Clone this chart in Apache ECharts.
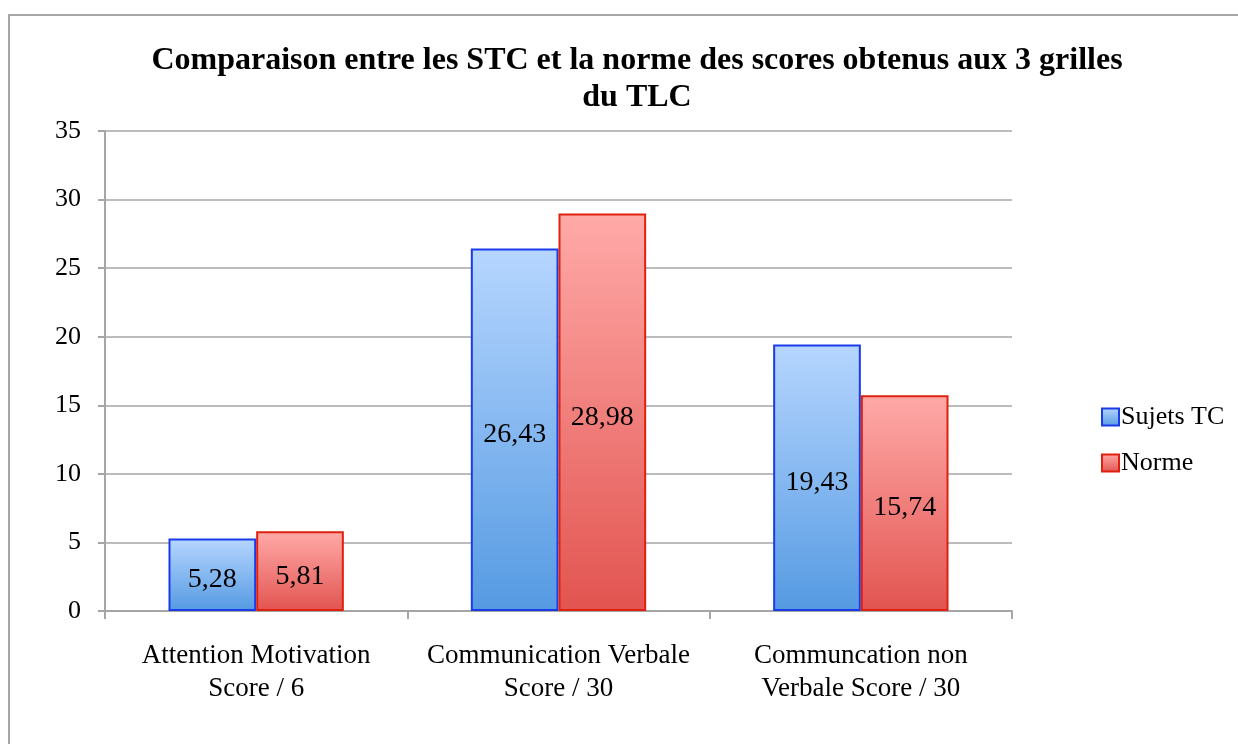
<!DOCTYPE html>
<html><head><meta charset="utf-8">
<script src="https://cdn.jsdelivr.net/npm/echarts@6/dist/echarts.min.js"></script>
<style>html,body{margin:0;padding:0;background:#fff}#c{width:1238px;height:744px}</style>
</head><body><div id="c"></div>
<script>
const categories = ['Attention Motivation\nScore / 6', 'Communication Verbale\nScore / 30', 'Communcation non\nVerbale Score / 30'];
const sujetsTC = [5.28, 26.43, 19.43];
const norme = [5.81, 28.98, 15.74];
const seriesNames = ['Sujets TC', 'Norme'];
const titleText = 'Comparaison entre les STC et la norme des scores obtenus aux 3 grilles\ndu TLC';

const serif = '"Liberation Serif", "DejaVu Serif", serif';
const chart = echarts.init(document.getElementById('c'));
const fmt = p => p.value.toFixed(2).replace('.', ',');
function grad(top, bottom) {
  return new echarts.graphic.LinearGradient(0, 0, 0, 1, [{offset: 0, color: top}, {offset: 1, color: bottom}]);
}
chart.setOption({
  animation: false,
  graphic: [{type: 'rect', shape: {x: 9, y: 15, width: 1400, height: 900}, style: {fill: 'none', stroke: '#a6a6a6', lineWidth: 2}, z: -1}],
  title: {
    text: titleText, left: 632, top: 37, textAlign: 'center',
    textStyle: {fontFamily: serif, fontWeight: 'bold', fontSize: 32, color: '#000', lineHeight: 37}
  },
  legend: {
    orient: 'vertical', left: 1096, top: 399, itemGap: 20, itemWidth: 17, itemHeight: 17, icon: 'rect',
    textStyle: {fontFamily: serif, fontSize: 26, color: '#000', padding: [0, 0, 0, -3]},
    data: seriesNames
  },
  grid: {left: 105, top: 131, width: 907, height: 480, containLabel: false},
  xAxis: {
    type: 'category', data: categories,
    axisLine: {lineStyle: {color: '#a6a6a6', width: 2}},
    axisTick: {show: true, interval: 0, length: 8, lineStyle: {color: '#a6a6a6', width: 2}},
    axisLabel: {interval: 0, hideOverlap: false, fontFamily: serif, fontSize: 27, color: '#000', margin: 28, lineHeight: 33}
  },
  yAxis: {
    type: 'value', min: 0, max: 35, interval: 5,
    axisLine: {show: true, lineStyle: {color: '#a6a6a6', width: 2}},
    axisTick: {show: true, length: 7, lineStyle: {color: '#a6a6a6', width: 2}},
    splitLine: {lineStyle: {color: '#a6a6a6', width: 1.5}},
    axisLabel: {fontFamily: serif, fontSize: 26, color: '#000', margin: 24}
  },
  series: [
    {
      name: seriesNames[0], type: 'bar', data: sujetsTC, barGap: '0%', barCategoryGap: '42%',
      itemStyle: {color: grad('#b6d6ff', '#559ae2'), borderColor: '#1a3ce8', borderWidth: 2},
      label: {show: true, position: 'inside', offset: [0, 5], formatter: fmt, fontFamily: serif, fontSize: 28, color: '#000'}
    },
    {
      name: seriesNames[1], type: 'bar', data: norme,
      itemStyle: {color: grad('#ffaaa8', '#e25450'), borderColor: '#e0200f', borderWidth: 2},
      label: {show: true, position: 'inside', offset: [0, 5], formatter: fmt, fontFamily: serif, fontSize: 28, color: '#000'}
    }
  ]
});
</script></body></html>
